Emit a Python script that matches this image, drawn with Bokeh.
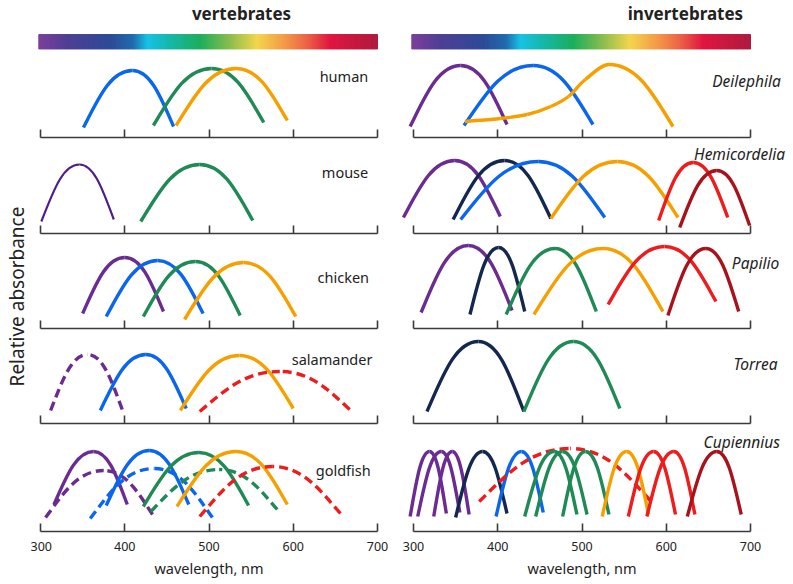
import math
from bokeh.plotting import figure
from bokeh.layouts import row, column
from bokeh.models import Range1d, FixedTicker, Label, CustomLabelingPolicy
from bokeh.core.properties import value
from bokeh.embed import file_html
from bokeh.resources import INLINE

# ---------------- data ----------------
TICKS = [300, 400, 500, 600, 700]
X_LABEL = "wavelength, nm"
Y_LABEL = "Relative absorbance"
TITLES = ["vertebrates", "invertebrates"]

# spectrum bar colour stops (nm, colour)
SPECTRUM_NM = [298, 332, 383, 410, 427, 454, 490, 525, 557, 589, 617, 644, 700]
SPECTRUM_HEX = ["#7d3f9b", "#4f3f94", "#2d4b98", "#1f6cae", "#18c2e4", "#16b7a8",
                "#1daf5b", "#8cbd4e", "#f3d64c", "#f39b48", "#eb6247", "#e0163f", "#ae1c3e"]

# curves: (pigment, form, left_nm, left_abs, peak_nm, peak_abs, right_nm, right_abs)
HUMAN = [("blue", "A1", 351, 10, 409, 67, 458, 11),
         ("green", "A1", 434, 12, 503, 69, 565, 15),
         ("orange", "A1", 461, 12, 532, 69, 593, 17)]
MOUSE = [("uv", "A1", 301, 12, 346, 69, 387, 14),
         ("green", "A1", 419, 12, 489, 69, 552, 13)]
CHICKEN = [("violet", "A1", 350, 15, 400, 71, 446, 17),
           ("blue", "A1", 378, 12, 439, 68, 493, 15),
           ("green", "A1", 422, 12, 484, 67, 537, 13),
           ("orange", "A1", 471, 9, 541, 66, 603, 12)]
SALAMANDER = [("violet", "A2", 312, 13, 356, 69, 397, 14),
              ("blue", "A1", 371, 13, 425, 69, 473, 15),
              ("orange", "A1", 466, 13, 536, 68, 600, 15),
              ("red", "A2", 489, 12, 584, 52, 667, 14)]
GOLDFISH = [("violet", "A1", 316, 27, 363, 80, 403, 27),
            ("violet", "A2", 306, 14, 375, 61, 433, 17),
            ("blue", "A1", 378, 26, 429, 81, 476, 27),
            ("blue", "A2", 359, 13, 435, 63, 504, 14),
            ("green", "A1", 422, 25, 488, 79, 547, 26),
            ("green", "A2", 431, 20, 512, 62, 581, 22),
            ("orange", "A1", 462, 25, 532, 80, 593, 27),
            ("red", "A2", 489, 15, 575, 65, 656, 18)]

DEILEPHILA = [("violet", "A1", 296, 11, 356, 72, 411, 13),
              ("blue", "A1", 360, 12, 442, 72, 513, 13)]
# Deilephila long-wave pigment with beta-band shoulder: rising points, then fall end
DEILEPHILA_LW_RISE_NM = [361, 403, 435, 463, 484, 504, 532]
DEILEPHILA_LW_RISE_ABS = [16, 19, 23, 31, 41, 58, 73]
DEILEPHILA_LW_END = (608, 11)
HEMICORDELIA = [("violet", "A1", 288, 16, 349, 73, 403, 17),
                ("navy", "A1", 347, 14, 408, 73, 463, 15),
                ("blue", "A1", 356, 14, 448, 72, 527, 16),
                ("orange", "A1", 463, 15, 542, 72, 614, 16),
                ("red", "A1", 591, 13, 632, 71, 673, 16),
                ("darkred", "A1", 616, 6, 660, 63, 699, 8)]
PAPILIO = [("violet", "A1", 309, 16, 365, 83, 417, 18),
           ("navy", "A1", 367, 14, 401, 81, 432, 17),
           ("green", "A1", 410, 14, 468, 80, 517, 17),
           ("orange", "A1", 443, 14, 525, 80, 596, 17),
           ("red", "A1", 531, 24, 598, 82, 659, 27),
           ("darkred", "A1", 602, 13, 647, 80, 686, 17)]
TORREA = [("navy", "A1", 316, 12, 377, 82, 431, 12),
          ("green", "A1", 431, 12, 490, 82, 545, 15)]
CUPIENNIUS = [("violet", "A1", 296, 15, 319, 80, 339, 18),
              ("violet", "A1", 305, 15, 333, 80, 355, 19),
              ("violet", "A1", 324, 15, 346, 80, 366, 17),
              ("navy", "A1", 350, 14, 382, 80, 411, 18),
              ("blue", "A1", 398, 15, 428, 80, 454, 19),
              ("red", "A2", 378, 30, 486, 83, 581, 31),
              ("green", "A1", 432, 15, 467, 80, 494, 17),
              ("green", "A1", 445, 15, 477, 80, 506, 17),
              ("green", "A1", 477, 15, 504, 80, 532, 17),
              ("orange", "A1", 524, 15, 553, 80, 579, 17),
              ("red", "A1", 555, 15, 585, 80, 611, 17),
              ("red", "A1", 577, 15, 609, 80, 634, 17),
              ("darkred", "A1", 625, 15, 660, 80, 689, 17)]

VERT_NAMES = ["human", "mouse", "chicken", "salamander", "goldfish"]
VERT_DATA = [HUMAN, MOUSE, CHICKEN, SALAMANDER, GOLDFISH]
INV_NAMES = ["Deilephila", "Hemicordelia", "Papilio", "Torrea", "Cupiennius"]
INV_DATA = [DEILEPHILA, HEMICORDELIA, PAPILIO, TORREA, CUPIENNIUS]

# ---------------- styles / layout ----------------
COLORS = {"uv": "#4e1f8a", "violet": "#6a2c91", "navy": "#14284f", "blue": "#0b66ee",
          "green": "#1f8a55", "orange": "#f6a000", "red": "#ee1c1c", "darkred": "#a8121c"}
WIDTHS = {"uv": 2.2}
FONT = "Noto Sans"
TEXT = "#222222"
AXIS = "#3a3a3a"
PX_PER_NM = 0.8425
A_, B_, C_ = 0.30, 0.50, 0.45

HEADER_H = 52
ROW_FRAMES = [87, 96, 95, 95, 159]
BELOW = [2, 2, 2, 2, 53]
STRIP_W, LEFT_W, RIGHT_W = 30, 370, 393
TOTAL_H = HEADER_H + sum(ROW_FRAMES)
LEFT_PAD, RIGHT_PAD = 10, 13       # px from frame left edge to 300 nm
LABEL_POS_V = [(689, 62), (689, 62), (690, 52), (694, 65), (692, 62)]
LABEL_POS_I = [(736, 57), (741, 80), (734, 66), (732, 60), (735, 90)]

HIDE_LABELS = CustomLabelingPolicy(code="""
const keep = [];
for (const i of indices) keep.push(i);
for (const i of keep) indices.unset(i);
return indices;
""")


def xr(width, pad):
    lo = 300 - pad / PX_PER_NM
    return (lo, lo + width / PX_PER_NM)


def half(xe, ye, xp, yp):
    return dict(x0=[xe], y0=[ye], x1=[xp], y1=[yp],
                cx0=[xe + A_ * (xp - xe)], cy0=[ye + B_ * (yp - ye)],
                cx1=[xp - C_ * (xp - xe)], cy1=[yp])


def draw_arch(p, pig, form, l, hl, m, hp, r, hr):
    dash = "9 5" if form == "A2" else "solid"
    for seg in (half(l, hl, m, hp), half(r, hr, m, hp)):
        p.bezier(**seg, line_color=COLORS[pig], line_width=WIDTHS.get(pig, 3.4), line_dash=dash)


def draw_shoulder(p, pig, xs, ys, end):
    n = len(xs)
    tang = []
    for i in range(n):
        if i == 0:
            tang.append((xs[1] - xs[0], ys[1] - ys[0]))
        elif i == n - 1:
            tang.append((xs[i] - xs[i - 1], 0.0))
        else:
            tang.append(((xs[i + 1] - xs[i - 1]) / 2, (ys[i + 1] - ys[i - 1]) / 2))
    for i in range(n - 1):
        p.bezier(x0=[xs[i]], y0=[ys[i]], x1=[xs[i + 1]], y1=[ys[i + 1]],
                 cx0=[xs[i] + tang[i][0] / 3], cy0=[ys[i] + tang[i][1] / 3],
                 cx1=[xs[i + 1] - tang[i + 1][0] / 3], cy1=[ys[i + 1] - tang[i + 1][1] / 3],
                 line_color=COLORS[pig], line_width=3.4)
    p.bezier(**half(end[0], end[1], xs[-1], ys[-1]), line_color=COLORS[pig], line_width=3.4)


def bare(width, height, xrange, yrange):
    p = figure(width=width, height=height, x_range=Range1d(*xrange), y_range=Range1d(*yrange),
               output_backend="svg", toolbar_location=None, x_axis_location=None,
               y_axis_location=None, min_border=0)
    p.outline_line_color = None
    p.grid.visible = False
    return p


def make_header(width, pad, title, title_x):
    p = bare(width, HEADER_H, xr(width, pad), (0, HEADER_H))
    lefts, rights, cols = [], [], []
    for i in range(len(SPECTRUM_NM) - 1):
        a, b = SPECTRUM_NM[i], SPECTRUM_NM[i + 1]
        c0, c1 = SPECTRUM_HEX[i], SPECTRUM_HEX[i + 1]
        steps = max(1, int(round(b - a)))
        for k in range(steps):
            t = k / steps
            rgb = [int(round(int(c0[1 + 2 * j:3 + 2 * j], 16) * (1 - t)
                             + int(c1[1 + 2 * j:3 + 2 * j], 16) * t)) for j in range(3)]
            lefts.append(a + (b - a) * k / steps)
            rights.append(a + (b - a) * (k + 1) / steps)
            cols.append("#%02x%02x%02x" % tuple(rgb))
    p.quad(left=lefts, right=rights, bottom=3.5, top=18, fill_color=cols, line_color=cols,
           line_width=1)
    p.add_layout(Label(x=title_x, y=39, text=title, text_align="center", text_baseline="middle",
                       text_font=FONT, text_font_style="bold", text_font_size="17px",
                       text_color=TEXT))
    return p


def make_panel(width, pad, i, curves, name, italic, lpos, extra=None):
    fh, below = ROW_FRAMES[i], BELOW[i]
    bottom = i == 4
    p = figure(width=width, height=fh, x_range=Range1d(*xr(width, pad)),
               y_range=Range1d(-below, fh - below), output_backend="svg",
               toolbar_location=None, y_axis_location=None, min_border=0)
    p.outline_line_color = None
    p.grid.visible = False
    ax = p.xaxis[0]
    ax.fixed_location = 0
    ax.ticker = FixedTicker(ticks=TICKS, minor_ticks=[])
    ax.bounds = (300, 700)
    ax.axis_line_color = AXIS
    ax.axis_line_width = 1.6
    ax.major_tick_line_color = AXIS
    ax.major_tick_line_width = 1.6
    ax.major_tick_in = 8
    ax.major_tick_out = 0
    ax.minor_tick_line_color = None
    if bottom:
        ax.major_label_text_font = FONT
        ax.major_label_text_font_size = "12.5px"
        ax.major_label_text_color = TEXT
        ax.major_label_standoff = 10
        p.text(x=[500], y=[-36], text=[X_LABEL], text_align="center", text_baseline="middle",
               text_font=value(FONT), text_font_size="14.5px", text_color=TEXT)
    else:
        ax.major_label_policy = HIDE_LABELS
        ax.major_label_standoff = 0
    for c in curves:
        draw_arch(p, *c)
    if extra:
        extra(p)
    p.add_layout(Label(x=lpos[0], y=lpos[1], text=name, text_align="right",
                       text_baseline="middle", text_font=FONT,
                       text_font_size="15.5px" if italic else "14.5px",
                       text_font_style="italic" if italic else "normal", text_color=TEXT))
    return p


def deilephila_extra(p):
    draw_shoulder(p, "orange", DEILEPHILA_LW_RISE_NM, DEILEPHILA_LW_RISE_ABS, DEILEPHILA_LW_END)


left_figs = [make_header(LEFT_W, LEFT_PAD, TITLES[0], 538.6)]
right_figs = [make_header(RIGHT_W, RIGHT_PAD, TITLES[1], 622.8)]
for i in range(5):
    left_figs.append(make_panel(LEFT_W, LEFT_PAD, i, VERT_DATA[i], VERT_NAMES[i],
                                False, LABEL_POS_V[i]))
    right_figs.append(make_panel(RIGHT_W, RIGHT_PAD, i, INV_DATA[i], INV_NAMES[i],
                                 True, LABEL_POS_I[i], deilephila_extra if i == 0 else None))

yl = bare(STRIP_W, TOTAL_H, (0, STRIP_W), (0, TOTAL_H))
yl.text(x=[16], y=[TOTAL_H - 296], text=[Y_LABEL], angle=math.pi / 2, text_align="center",
        text_baseline="middle", text_font=value(FONT), text_font_size="19px", text_color=TEXT)

layout = row(yl, column(*left_figs), column(*right_figs))
open("out.html", "w").write(file_html(layout, INLINE))
